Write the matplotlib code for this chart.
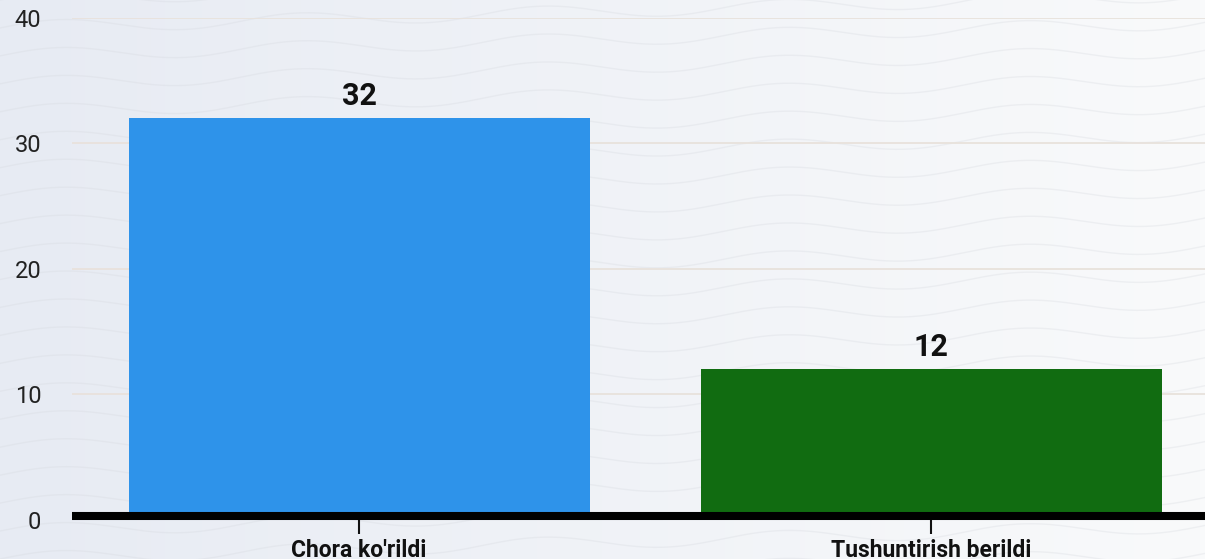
import numpy as np
import matplotlib
matplotlib.use("Agg")
import matplotlib.pyplot as plt
import matplotlib.transforms as mtransforms
from matplotlib.colors import LinearSegmentedColormap

categories = ["Chora ko'rildi", "Tushuntirish berildi"]
values = [32, 12]
bar_colors = ["#2E93EA", "#116C11"]
y_ticks = [0, 10, 20, 30, 40]

plt.rcParams['font.family'] = ['Roboto', 'DejaVu Sans']

W, H = 1205, 559
fig = plt.figure(figsize=(W / 100, H / 100), dpi=100)

# background gradient with subtle waves
bg = fig.add_axes([0, 0, 1, 1], zorder=-10)
gx = np.linspace(0, 1, 256)
grad = np.vstack([gx, gx])
cmap = LinearSegmentedColormap.from_list("bg", ["#e7ebf3", "#f9fafb"])
bg.imshow(grad, aspect="auto", cmap=cmap, extent=[0, 1, 0, 1])
t = np.linspace(0, 1, 600)
for k in np.arange(-0.2, 1.25, 0.05):
    bg.plot(t, k + 0.012 * np.sin(2 * np.pi * t * 5) + 0.06 * t, color="#d5d8de", lw=1.0, alpha=0.3)
bg.set_xlim(0, 1)
bg.set_ylim(0, 1)
bg.axis("off")

left, right = 72, 1205
top, bottom = 17.7, 520
cx0, step = 359, 572
ax = fig.add_axes([left / W, (H - bottom) / H, (right - left) / W, (bottom - top) / H])
ax.patch.set_alpha(0)

x = np.arange(len(categories))
bars = ax.bar(x, values, width=461 / step, color=bar_colors, zorder=2)
ax.set_xlim((left - cx0) / step, (right - cx0) / step)
ax.set_ylim(0, 40)

ax.set_yticks(y_ticks)
ax.set_yticklabels([str(v) for v in y_ticks], fontsize=17, color="#222222")
ax.yaxis.grid(True, color="#e8e2dc", lw=1.3, zorder=0)
ax.tick_params(axis="y", length=0, pad=22)

ax.set_xticks(x)
ax.set_xticklabels(categories, fontsize=16.5, fontweight="bold", color="#111111")
ax.tick_params(axis="x", length=10, width=1.5, color="#111111", pad=3.5)

for s in ax.spines.values():
    s.set_visible(False)

offset = mtransforms.ScaledTranslation(0, 4.5 / 100, fig.dpi_scale_trans)
ax.plot([0, 1], [0, 0], color="black", lw=5.8, zorder=3,
        transform=ax.get_yaxis_transform() + offset, clip_on=False, solid_capstyle="butt")

for b, v in zip(bars, values):
    ax.annotate(str(v), (b.get_x() + b.get_width() / 2, v), xytext=(0, 13), textcoords="offset pixels",
                ha="center", va="baseline", fontsize=22, fontweight="bold", color="#111111")

fig.savefig("out.png", dpi=100)
